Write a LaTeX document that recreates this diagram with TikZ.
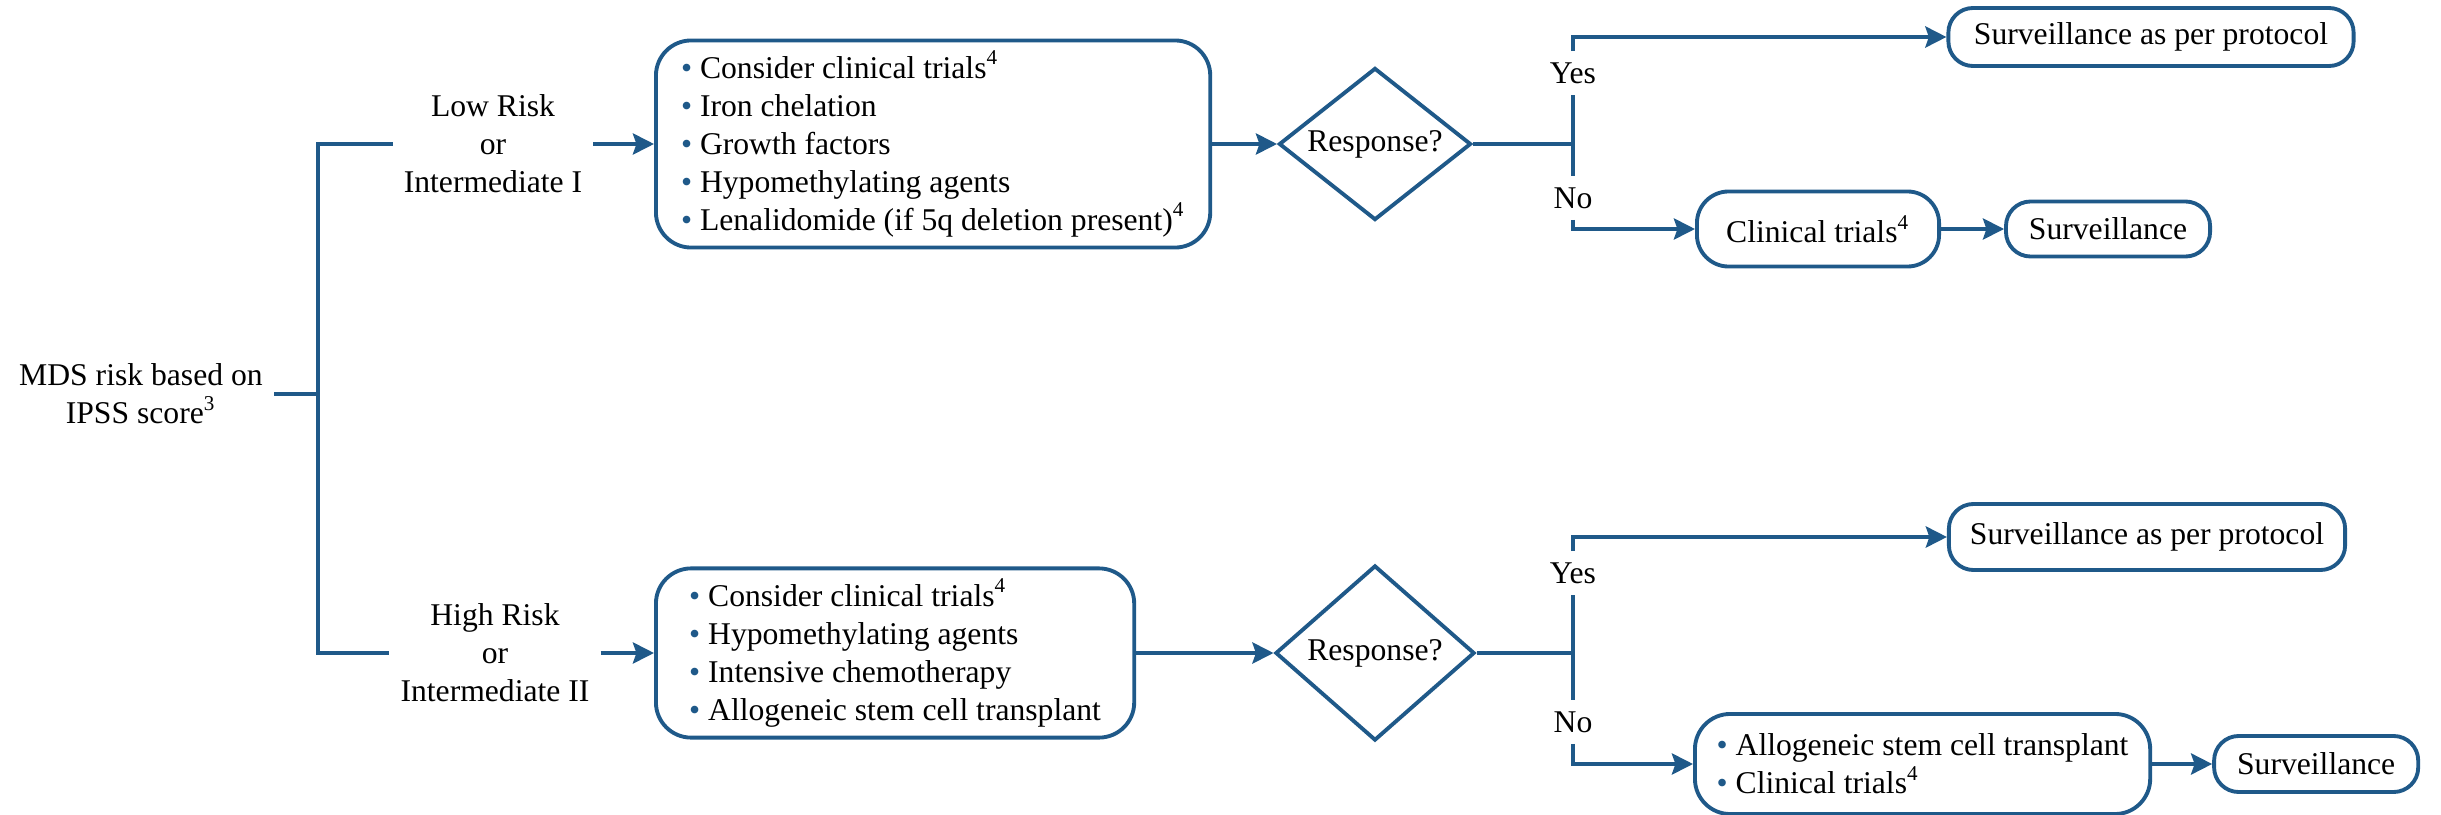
\documentclass[tikz,border=0pt]{standalone}
\usepackage{fontspec}
\setmainfont{Liberation Serif}
\usepackage{xcolor}
\usetikzlibrary{shapes,arrows.meta,positioning,calc}
\definecolor{mdsblue}{RGB}{31,89,137}
\newcommand{\itm}{{\color{mdsblue}\textbullet}~}

\begin{document}
\begin{tikzpicture}[x=0.01cm, y=-0.01cm,
    every node/.style={font=\fontsize{9}{10.8}\selectfont},
    risk/.style={align=center, inner sep=3pt},
    treat/.style={rectangle, draw=mdsblue, line width=1.1pt, rounded corners=10pt, align=left, inner xsep=4pt, inner ysep=3pt},
    term/.style={rectangle, draw=mdsblue, line width=1.1pt, rounded corners=7pt, align=center},
    decision/.style={diamond, draw=mdsblue, line width=1.1pt, inner sep=0pt, shape aspect=1.3},
    answer/.style={inner sep=3pt},
    link/.style={draw=mdsblue, line width=1.1pt},
    arrow/.style={link, ->, >={Stealth[length=6pt,width=6pt,inset=1pt]}}
]
    \useasboundingbox (0,0) rectangle (2441,815);

    % Start and risk groups
    \node[risk] (mds) at (141,394) {MDS risk based on\\IPSS score\textsuperscript{3}};
    \coordinate (fork) at (318,394);
    \node[risk] (low) at (493,144) {Low Risk\\or\\Intermediate I};
    \node[risk] (high) at (495,653) {High Risk\\or\\Intermediate II};

    % Treatments
    \node[treat, anchor=west, minimum width=5.54cm, minimum height=2.03cm] (lowtx) at (654,144)
        {\itm Consider clinical trials\textsuperscript{4}\\ \itm Iron chelation\\ \itm Growth factors\\
         \itm Hypomethylating agents\\ \itm Lenalidomide (if 5q deletion present)\textsuperscript{4}};
    \node[treat, anchor=west, minimum width=4.78cm, minimum height=1.66cm] (hightx) at (654,653)
        {\itm Consider clinical trials\textsuperscript{4}\\ \itm Hypomethylating agents\\
         \itm Intensive chemotherapy\\ \itm Allogeneic stem cell transplant};

    % Decisions
    \node[decision, minimum width=1.92cm, minimum height=1.52cm] (resp1) at (1375,144) {Response?};
    \node[decision, minimum width=1.99cm, minimum height=1.75cm] (resp2) at (1375,653) {Response?};
    \coordinate (split1) at (1573,144);
    \coordinate (split2) at (1573,653);
    \node[answer] (yes1) at (1573,73) {Yes};
    \node[answer] (no1) at (1573,198) {No};
    \node[answer] (yes2) at (1573,573) {Yes};
    \node[answer] (no2) at (1573,722) {No};

    % Outcomes
    \node[term, minimum width=4.05cm, minimum height=0.58cm] (prot1) at (2151,37) {Surveillance as per protocol};
    \node[term, minimum width=2.42cm, minimum height=0.75cm, rounded corners=9pt] (trial1) at (1818,229) {Clinical trials\textsuperscript{4}};
    \node[term, minimum width=2.04cm, minimum height=0.55cm, right=0.63cm of trial1] (surv1) {Surveillance};
    \node[term, minimum width=3.96cm, minimum height=0.66cm] (prot2) at (2147,537) {Surveillance as per protocol};
    \node[treat, anchor=west, minimum width=4.55cm, minimum height=1.0cm] (trial2) at (1693,764)
        {\itm Allogeneic stem cell transplant\\ \itm Clinical trials\textsuperscript{4}};
    \node[term, minimum width=2.04cm, minimum height=0.56cm, right=0.6cm of trial2] (surv2) {Surveillance};

    % Connectors
    \draw[link] (mds.east) -- (fork);
    \draw[link] (fork) |- (low.west);
    \draw[link] (fork) |- (high.west);
    \draw[arrow] (low.east) -- (lowtx.west);
    \draw[arrow] (high.east) -- (hightx.west);
    \draw[arrow] (lowtx.east) -- (resp1.west);
    \draw[arrow] (hightx.east) -- (resp2.west);

    \draw[link] (resp1.east) -- (split1);
    \draw[link] (split1) -- (yes1.south);
    \draw[arrow] (yes1.north) |- (prot1.west);
    \draw[link] (split1) -- (no1.north);
    \draw[arrow] (no1.south) |- (trial1.west);
    \draw[arrow] (trial1.east) -- (surv1.west);

    \draw[link] (resp2.east) -- (split2);
    \draw[link] (split2) -- (yes2.south);
    \draw[arrow] (yes2.north) |- (prot2.west);
    \draw[link] (split2) -- (no2.north);
    \draw[arrow] (no2.south) |- (trial2.west);
    \draw[arrow] (trial2.east) -- (surv2.west);
\end{tikzpicture}
\end{document}
